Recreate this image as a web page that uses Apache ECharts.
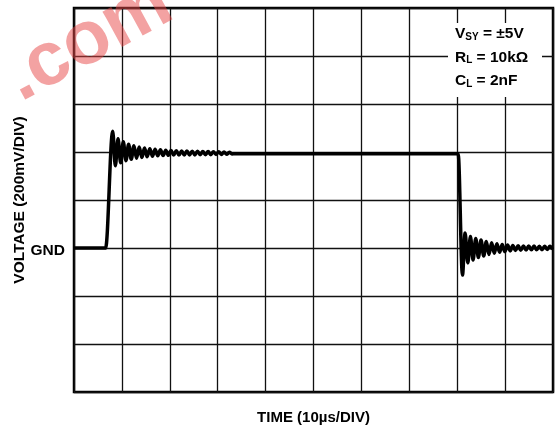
<!DOCTYPE html>
<html>
<head>
<meta charset="utf-8">
<script src="https://cdn.jsdelivr.net/npm/echarts@6/dist/echarts.min.js"></script>
<style>
html,body{margin:0;padding:0;background:#fff;}
#c{width:560px;height:429px;}
</style>
</head>
<body>
<div id="c"></div>
<script>
// Time in microseconds, voltage in millivolts (GND = 0)
const startTime = [0, 6.6];
const startVolt = [0, 0];
const riseTime = [8.08, 8.63, 9.19, 9.74, 10.29, 10.85, 11.40, 11.95, 12.51, 13.06,
  13.61, 14.17, 14.72, 15.27, 15.83, 16.38, 16.93, 17.49, 18.04, 18.59,
  19.15, 19.70, 20.25, 20.81, 21.36, 21.91, 22.47, 23.02, 23.57, 24.13,
  24.68, 25.23, 25.79, 26.34, 26.89, 27.45, 28.00, 28.55, 29.11, 29.66,
  30.21, 30.77, 31.32, 31.87, 32.43, 32.98];
const riseVolt = [486, 343, 455, 355, 443, 364, 432, 370, 426, 374,
  421, 377, 417, 380, 414, 382, 411, 384, 409, 385,
  407, 386, 406, 387, 405, 387, 404, 388, 404, 388,
  403, 388, 403, 389, 402, 389, 402, 389, 401, 390,
  401, 390, 400, 391, 399, 392];
const flatTime = [33.6, 80.2];
const flatVolt = [393, 393];
const fallTime = [81.10, 81.65, 82.21, 82.76, 83.31, 83.87, 84.42, 84.97, 85.53, 86.08,
  86.63, 87.19, 87.74, 88.29, 88.85, 89.40, 89.95, 90.51, 91.06, 91.61,
  92.17, 92.72, 93.27, 93.83, 94.38, 94.93, 95.49, 96.04, 96.59, 97.15,
  97.70, 98.25, 98.81, 99.36, 99.91];
const fallVolt = [-113, 62, -62, 48, -50, 40, -40, 33, -33, 27,
  -27, 22, -22, 18, -18, 15, -15, 12, -12, 10,
  -10, 9, -9, 8, -8, 8, -7, 8, -7, 7,
  -7, 7, -6, 7, -6];

const xName = 'TIME (10µs/DIV)';
const yName = 'VOLTAGE (200mV/DIV)';
const gndLabel = 'GND';

function zip(t, v) { return t.map((x, i) => [x, v[i]]); }
const data = [].concat(zip(startTime, startVolt), zip(riseTime, riseVolt),
  zip(flatTime, flatVolt), zip(fallTime, fallVolt));

const FONT = '"Liberation Sans", Arial, sans-serif';
const richStyle = {
  b: {fontFamily: FONT, fontSize: 15.5, fontWeight: 'bold', fill: '#000'},
  s: {fontFamily: FONT, fontSize: 10, fontWeight: 'bold', fill: '#000', verticalAlign: 'bottom', padding: [4, 0, 0, 0]}
};
const chart = echarts.init(document.getElementById('c'), null, {renderer: 'canvas'});
chart.setOption({
  animation: false,
  backgroundColor: '#fff',
  grid: {left: 74, right: 7, top: 8, bottom: 37, containLabel: false, outerBoundsMode: 'none',
    show: true, borderColor: '#000', borderWidth: 2.5, backgroundColor: 'transparent'},
  xAxis: {
    type: 'value', min: 0, max: 100, interval: 10,
    axisLine: {show: false}, axisTick: {show: false}, axisLabel: {show: false},
    splitLine: {show: true, lineStyle: {color: '#111', width: 1.3}},
    name: xName, nameLocation: 'middle', nameGap: 18,
    nameTextStyle: {fontFamily: FONT, fontWeight: 'bold', fontSize: 15, color: '#000', verticalAlign: 'top'}
  },
  yAxis: {
    type: 'value', min: -600, max: 1000, interval: 200,
    axisLine: {show: false}, axisTick: {show: false},
    axisLabel: {show: true, margin: 9, fontFamily: FONT, fontWeight: 'bold', fontSize: 15.5, color: '#000',
      verticalAlign: 'top', lineHeight: 5,
      formatter: v => (v === 0 ? gndLabel : '')},
    splitLine: {show: true, lineStyle: {color: '#111', width: 1.3}},
    name: yName, nameLocation: 'middle', nameGap: 46, nameMoveOverlap: false,
    nameTextStyle: {fontFamily: FONT, fontWeight: 'bold', fontSize: 15.5, color: '#000'}
  },
  series: [{
    type: 'line', data: data, showSymbol: false, symbol: 'none',
    smooth: 0.35, smoothMonotone: 'x',
    lineStyle: {color: '#000', width: 3.5}, z: 5
  }],
  graphic: [
    {type: 'rect', shape: {x: 448, y: 23, width: 94, height: 74}, style: {fill: '#fff'}, z: 50},
    {type: 'text', x: 455, y: 34, z: 51, style: {
      text: '{b|V}{s|SY}{b| = ±5V}', fontFamily: FONT, textVerticalAlign: 'middle', rich: richStyle}},
    {type: 'text', x: 455, y: 57.5, z: 51, style: {
      text: '{b|R}{s|L}{b| = 10kΩ}', fontFamily: FONT, textVerticalAlign: 'middle', rich: richStyle}},
    {type: 'text', x: 455, y: 81, z: 51, style: {
      text: '{b|C}{s|L}{b| = 2nF}', fontFamily: FONT, textVerticalAlign: 'middle', rich: richStyle}},
    {type: 'text', x: 29, y: 117, rotation: 0.5, z: 60, style: {
      text: '.com', fontFamily: FONT, fontSize: 76, fontWeight: 'bold', fill: 'rgba(232,70,70,0.5)',
      textAlign: 'left', textVerticalAlign: 'bottom'}}
  ]
});
</script>
</body>
</html>
